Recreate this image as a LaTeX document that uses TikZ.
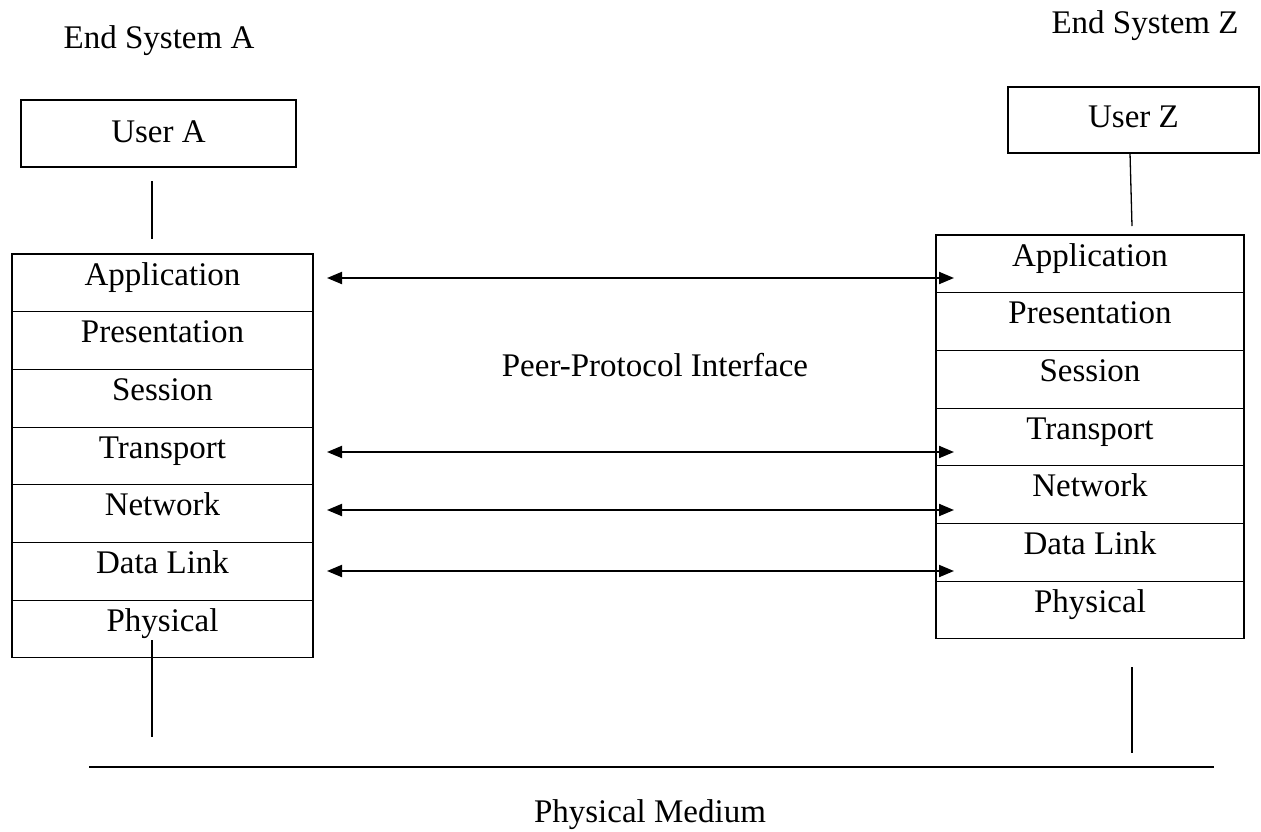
\documentclass[tikz,border=0pt]{standalone}
\usepackage{fontspec}
\setmainfont{Liberation Serif}
\usetikzlibrary{arrows.meta}
\begin{document}
\begin{tikzpicture}[x=1pt,y=-1pt,
  every node/.style={font=\fontsize{33}{40}\selectfont, inner sep=0pt},
  label text/.style={anchor=base},
  layer/.style={draw, line width=1.1pt, minimum width=#1, anchor=base,
                text height=31pt, text depth=26.7pt},
  userbox/.style={draw, line width=1.4pt, anchor=base},
  link/.style={line width=1.3pt},
  peer/.style={line width=2pt,
               {Triangle[length=15pt,width=12pt]}-{Triangle[length=15pt,width=12pt]}},
  medium/.style={line width=2.4pt}
]
\useasboundingbox (0,0) rectangle (1261,831);

% system titles
\node[label text] (titleA) at (159,48) {End System A};
\node[label text] (titleZ) at (1145,33) {End System Z};

% users
\node[userbox, minimum width=275pt, text height=42pt, text depth=25pt] (userA) at (158.5,142) {User A};
\node[userbox, minimum width=251pt, text height=40pt, text depth=26pt] (userZ) at (1133.5,127) {User Z};

% protocol stacks
\foreach \t [count=\i from 0] in {Application,Presentation,Session,Transport,Network,Data Link,Physical} {
  \node[layer=301pt] (A\i) at (162.5,{254+57.7*\i+31}) {\t};
  \node[layer=308pt] (Z\i) at (1090,{235+57.7*\i+31}) {\t};
}

% user-to-stack and stack-to-medium attachments
\coordinate (ua1) at (152,181);  \coordinate (ua2) at (152,239);
\coordinate (pa1) at (152,640);  \coordinate (pa2) at (152,737);
\coordinate (uz1) at (1130,153); \coordinate (uz2) at (1132,226);
\coordinate (pz1) at (1132,667); \coordinate (pz2) at (1132,753);
\draw[link] (ua1) -- (ua2);
\draw[link] (pa1) -- (pa2);
\draw[link] (uz1) -- (uz2);
\draw[link] (pz1) -- (pz2);

% physical medium
\coordinate (m1) at (89,767);
\coordinate (m2) at (1214,767);
\draw[medium] (m1) -- (m2);
\node[label text] (medium) at (650,822) {Physical Medium};

% peer-protocol arrows
\foreach \n/\y in {app/278, tra/452, net/510, dl/571} {
  \coordinate (\n L) at (327,\y);
  \coordinate (\n R) at (954,\y);
  \draw[peer] (\n L) -- (\n R);
}
\node[label text] (peerlabel) at (655,376) {Peer-Protocol Interface};
\end{tikzpicture}
\end{document}
